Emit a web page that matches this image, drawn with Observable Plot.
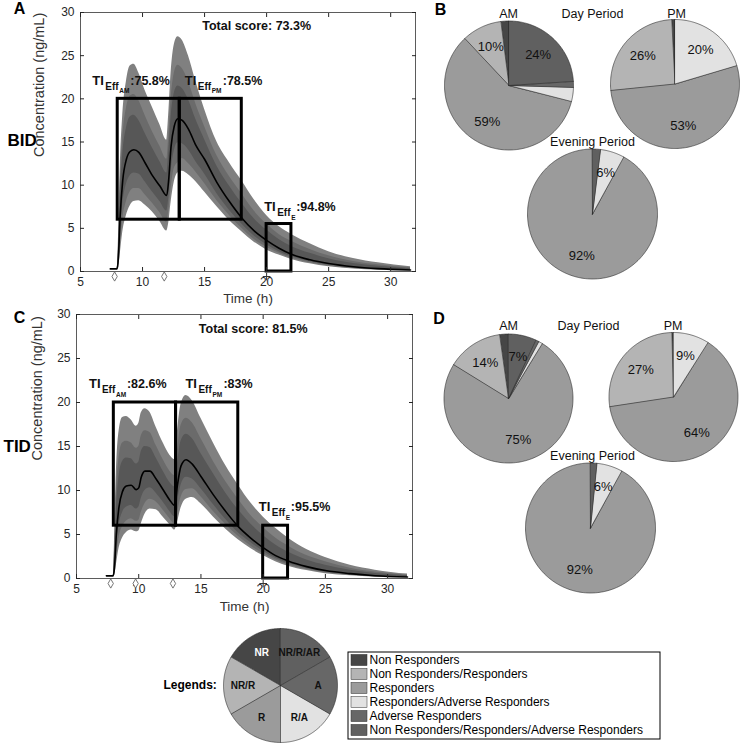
<!DOCTYPE html>
<html><head><meta charset="utf-8">
<script src="https://cdn.jsdelivr.net/npm/d3@7"></script>
<script src="https://cdn.jsdelivr.net/npm/@observablehq/plot@0.6"></script>
<style>
body{margin:0;background:#fff;}
#root{position:relative;width:741px;height:745px;overflow:hidden;background:#fff;}
#root svg{position:absolute;}
</style></head><body><div id="root"></div>
<script>
const FONT = "'Liberation Sans', Arial, Helvetica, sans-serif";

// ---------- BID concentration percentiles ----------
const timeBID = [7.4, 7.95, 8.05, 8.2, 8.4, 8.7, 9.0, 9.3, 9.7, 10.2, 10.8, 11.4, 11.95, 12.1, 12.3, 12.55, 12.85, 13.2, 13.7, 14.3, 15, 16, 17, 18, 19, 20, 21, 22, 23.5, 25, 27, 29, 31.6];
const bidP5  = [0.3, 0.3, 0.3, 2.0, 4.5, 6.5, 7.6, 8.1, 8.2, 7.7, 6.9, 5.8, 4.7, 5.5, 8.0, 10.3, 11.4, 11.6, 11.2, 10.4, 9.2, 7.5, 5.9, 4.6, 3.4, 2.5, 1.9, 1.4, 0.9, 0.55, 0.3, 0.15, 0.08];
const bidP10 = [0.3, 0.3, 0.6, 3.1, 6.0, 8.1, 9.2, 9.6, 9.6, 8.9, 7.9, 6.8, 5.7, 6.8, 9.6, 11.9, 12.6, 13.1, 12.5, 11.5, 10.2, 8.2, 6.5, 5.0, 3.7, 2.8, 2.1, 1.55, 1.01, 0.64, 0.36, 0.2, 0.1];
const bidP25 = [0.3, 0.3, 0.96, 4.5, 7.8, 10.1, 11.1, 11.4, 11.3, 10.4, 9.2, 8.1, 7.0, 8.3, 11.6, 13.9, 14.9, 14.8, 14.1, 12.7, 11.3, 9.0, 7.1, 5.5, 4.1, 3.1, 2.3, 1.73, 1.15, 0.75, 0.44, 0.25, 0.13];
const bidP50 = [0.3, 0.3, 1.5, 6.5, 10.5, 13.0, 13.9, 14.1, 13.8, 12.6, 11.1, 9.9, 8.8, 10.5, 14.5, 16.8, 17.7, 17.5, 16.5, 14.6, 13.0, 10.3, 8.1, 6.2, 4.7, 3.6, 2.7, 2.0, 1.35, 0.92, 0.55, 0.33, 0.18];
const bidP75 = [0.3, 0.3, 2.1, 8.7, 13.5, 16.6, 17.9, 18.1, 17.5, 16.0, 14.3, 12.7, 11.4, 13.5, 17.9, 20.6, 21.5, 21.2, 19.9, 17.6, 15.3, 12.2, 9.9, 7.9, 6.1, 4.8, 3.7, 2.9, 2.1, 1.47, 0.93, 0.6, 0.33];
const bidP90 = [0.3, 0.3, 2.5, 10.1, 15.4, 18.9, 20.3, 20.5, 19.8, 18.1, 16.2, 14.5, 13.0, 15.4, 20.0, 22.9, 23.9, 23.5, 22.0, 19.4, 16.8, 13.4, 11.0, 9.0, 7.0, 5.5, 4.3, 3.5, 2.55, 1.82, 1.17, 0.77, 0.42];
const bidP95 = [0.3, 0.3, 3.0, 12.0, 18.0, 22.0, 23.8, 24.0, 23.0, 21.0, 19.0, 17.0, 15.2, 18.0, 23.0, 26.2, 27.2, 26.8, 25.0, 22.0, 18.8, 15.0, 12.6, 10.5, 8.3, 6.5, 5.2, 4.3, 3.2, 2.3, 1.5, 1.0, 0.55];

// ---------- TID concentration percentiles ----------
const timeTID = [7.4, 7.95, 8.05, 8.2, 8.4, 8.7, 9.0, 9.4, 9.8, 10.0, 10.2, 10.5, 10.9, 11.4, 12.0, 12.5, 12.9, 13.1, 13.4, 13.8, 14.3, 15, 16, 17, 18, 19, 20, 21, 22, 23.5, 25, 27, 29, 31.6];
const tidP5  = [0.3, 0.3, 0.3, 1.5, 3.3, 4.6, 5.2, 5.5, 5.3, 5.4, 6.2, 7.3, 7.9, 7.8, 6.9, 6.1, 5.5, 6.3, 8.0, 9.0, 9.2, 8.5, 7.0, 5.6, 4.4, 3.4, 2.6, 1.9, 1.4, 0.9, 0.55, 0.3, 0.15, 0.08];
const tidP10 = [0.3, 0.3, 0.53, 2.4, 4.5, 5.9, 6.5, 6.8, 6.5, 6.6, 7.5, 8.5, 9.0, 8.7, 7.7, 6.8, 6.2, 7.4, 9.2, 10.1, 10.2, 9.3, 7.6, 6.1, 4.8, 3.7, 2.8, 2.1, 1.55, 1.01, 0.64, 0.36, 0.19, 0.1];
const tidP25 = [0.3, 0.3, 0.8, 3.4, 5.9, 7.5, 8.1, 8.3, 7.9, 8.1, 9.1, 10.0, 10.3, 9.7, 8.6, 7.6, 7.0, 8.6, 10.6, 11.5, 11.3, 10.2, 8.4, 6.7, 5.2, 4.1, 3.1, 2.3, 1.73, 1.15, 0.74, 0.44, 0.24, 0.13];
const tidP50 = [0.3, 0.3, 1.2, 5.0, 8.0, 9.9, 10.5, 10.6, 10.1, 10.3, 11.5, 12.2, 12.2, 11.3, 10.0, 8.9, 8.3, 10.5, 12.8, 13.5, 13.0, 11.6, 9.5, 7.6, 5.9, 4.6, 3.5, 2.6, 2.0, 1.35, 0.9, 0.55, 0.32, 0.17];
const tidP75 = [0.3, 0.3, 2.3, 7.8, 11.4, 13.3, 13.7, 13.6, 13.0, 13.2, 14.4, 15.0, 14.9, 13.7, 12.1, 10.9, 10.4, 12.9, 15.6, 16.4, 15.9, 14.2, 11.9, 9.7, 7.8, 6.2, 4.9, 3.8, 3.0, 2.1, 1.5, 0.93, 0.57, 0.3];
const tidP90 = [0.3, 0.3, 3.0, 9.6, 13.5, 15.4, 15.6, 15.4, 14.8, 15.0, 16.2, 16.8, 16.6, 15.1, 13.4, 12.2, 11.7, 14.4, 17.4, 18.2, 17.7, 15.9, 13.3, 11.0, 9.0, 7.2, 5.8, 4.6, 3.7, 2.6, 1.9, 1.17, 0.73, 0.38];
const tidP95 = [0.3, 0.3, 4.0, 12.0, 16.5, 18.3, 18.4, 18.0, 17.3, 17.6, 18.8, 19.3, 18.9, 17.2, 15.3, 14.0, 13.5, 16.5, 19.8, 20.8, 20.2, 18.2, 15.4, 12.8, 10.6, 8.6, 7.0, 5.7, 4.6, 3.3, 2.4, 1.5, 0.95, 0.5];

// ---------- dosing, windows, scores ----------
const doseBID = [7.75, 11.75];
const doseTID = [7.75, 9.75, 12.75];
const eveningMark = [20];
const xTicks = [5, 10, 15, 20, 25, 30];
const yTicks = [0, 5, 10, 15, 20, 25, 30];
const windowNames = ["AM", "PM", "E"];
const windowStart = [8, 13, 20];
const windowEnd = [13, 18, 22];
const windowLow = [6, 6, 0];
const windowHighBID = [20, 20, 5.5];
const windowHighTID = [20, 20, 6];
const tiBID = ["75.8%", "78.5%", "94.8%"];
const tiTID = ["82.6%", "83%", "95.5%"];
const totalBID = "73.3%";
const totalTID = "81.5%";

// ---------- pie data (% of patients) ----------
const categories = ["Non Responders", "Non Responders/Responders", "Responders", "Responders/Adverse Responders", "Adverse Responders", "Non Responders/Responders/Adverse Responders"];
const abbrev = ["NR", "NR/R", "R", "R/A", "A", "NR/R/AR"];
const bidAM      = [2, 10, 59, 3.5, 1.5, 24];
const bidPM      = [0.8, 25.8, 53, 20.4, 0, 0];
const bidEvening = [0, 0, 92, 6, 0, 2];
const tidAM      = [2.2, 14, 75, 1, 0.8, 7];
const tidPM      = [0.4, 27, 63.6, 9, 0, 0];
const tidEvening = [0, 0, 92, 6.4, 0, 1.6];
const legendShares = [1, 1, 1, 1, 1, 1];

// ---------- styles ----------
const catColors = ["#464646", "#b4b4b4", "#9b9b9b", "#e2e2e2", "#676767", "#606060"];
const bandColors = ["#808080", "#6b6b6b", "#575757"];

const root = document.getElementById("root");

function concPlot(o) {
  const rows = o.t.map((x, i) => ({t: x, p5: o.q[0][i], p10: o.q[1][i], p25: o.q[2][i], p50: o.q[3][i], p75: o.q[4][i], p90: o.q[5][i], p95: o.q[6][i]}));
  const boxes = windowStart.map((s, i) => ({x1: s, x2: windowEnd[i], y1: windowLow[i], y2: o.winHigh[i]}));
  const labels = windowNames.map((n, i) => ({x: o.tiPos[i][0], y: o.tiPos[i][1], sub: n, val: ":" + o.ti[i]}));
  const bold = {fontWeight: "bold", textAnchor: "start", lineAnchor: "middle", fill: "#111"};
  const curve = "monotone-x";
  return Plot.plot({
    width: o.width, height: o.height,
    marginLeft: o.ml, marginRight: o.mr, marginTop: o.mt, marginBottom: o.mb,
    x: {domain: [5, 32]},
    y: {domain: [0, 30]},
    style: {fontFamily: FONT, fontSize: "12px", background: "transparent", overflow: "visible", color: "#262626"},
    marks: [
      Plot.areaY(rows, {x: "t", y1: "p5", y2: "p95", fill: bandColors[0], curve}),
      Plot.areaY(rows, {x: "t", y1: "p10", y2: "p90", fill: bandColors[1], curve}),
      Plot.areaY(rows, {x: "t", y1: "p25", y2: "p75", fill: bandColors[2], curve}),
      Plot.line(rows, {x: "t", y: "p50", stroke: "#000", strokeWidth: 1.6, curve}),
      Plot.rect(boxes, {x1: "x1", x2: "x2", y1: "y1", y2: "y2", fill: "none", stroke: "#000", strokeWidth: 3}),
      Plot.frame({stroke: "#333", strokeWidth: 0.8}),
      Plot.axisX({ticks: xTicks, anchor: "bottom", tickSize: -4, tickPadding: 10, label: null, fontSize: 12}),
      Plot.axisX({ticks: xTicks, anchor: "top", tickSize: -4, tickFormat: () => "", label: null}),
      Plot.axisY({ticks: yTicks, anchor: "left", tickSize: -4, tickPadding: 10, label: null, fontSize: 12}),
      Plot.axisY({ticks: yTicks, anchor: "right", tickSize: -4, tickFormat: () => "", label: null}),
      Plot.dot(o.doses, {x: d => d, y: () => 0, dy: 5, symbol: "diamond", r: 2.8, fill: "white", stroke: "#666", strokeWidth: 0.9}),
      Plot.dot(eveningMark, {x: d => d, y: () => 0, dy: 5, symbol: "plus", r: 2.6, stroke: "#333", strokeWidth: 1}),
      Plot.text(["Concentration (ng/mL)"], {frameAnchor: "left", rotate: -90, dx: o.ylx, dy: o.yly, fontSize: 14.5, fill: "#333"}),
      Plot.text(["Time (h)"], {frameAnchor: "bottom", dy: o.xly, fontSize: 13.5, fill: "#333"}),
      Plot.text(["Total score: " + o.total], {x: () => 19.2, y: () => 28.4, fontSize: 12.5, fontWeight: "bold", fill: "#111", lineAnchor: "middle"}),
      Plot.text(labels, {x: "x", y: "y", text: () => "TI", fontSize: 13, ...bold}),
      Plot.text(labels, {x: "x", y: "y", text: () => "Eff", dx: 13, dy: 6, fontSize: 10, ...bold}),
      Plot.text(labels, {x: "x", y: "y", text: "sub", dx: 27, dy: 10.5, fontSize: 6.5, ...bold}),
      Plot.text(labels, {filter: d => d.sub.length > 1, x: "x", y: "y", text: "val", dx: 38, fontSize: 12.5, ...bold}),
      Plot.text(labels, {filter: d => d.sub.length === 1, x: "x", y: "y", text: "val", dx: 32, fontSize: 12.5, ...bold})
    ]
  });
}

const plotA = concPlot({
  t: timeBID, q: [bidP5, bidP10, bidP25, bidP50, bidP75, bidP90, bidP95],
  doses: doseBID, winHigh: windowHighBID, ti: tiBID, total: totalBID,
  tiPos: [[5.95, 22.1], [13.4, 22.1], [19.8, 7.45]],
  width: 430, height: 310, ml: 80, mr: 15, mt: 12, mb: 39,
  ylx: -41, yly: 15, xly: 31
});
plotA.style.left = "0px"; plotA.style.top = "0px";
root.appendChild(plotA);

const plotC = concPlot({
  t: timeTID, q: [tidP5, tidP10, tidP25, tidP50, tidP75, tidP90, tidP95],
  doses: doseTID, winHigh: windowHighTID, ti: tiTID, total: totalTID,
  tiPos: [[6.0, 22.1], [13.75, 22.1], [19.65, 8.1]],
  width: 430, height: 320, ml: 76, mr: 18, mt: 12, mb: 44,
  ylx: -39, yly: 14, xly: 32
});
plotC.style.left = "0px"; plotC.style.top = "302px";
root.appendChild(plotC);

// ---------- overlay: pies, titles, legend ----------
function pieGeometry(values, cx, cy, r, id, labelMin) {
  const arcs = d3.pie().sort(null).startAngle(0).endAngle(-2 * Math.PI)(values);
  const pts = [], labs = [];
  arcs.forEach((a, i) => {
    if (!(values[i] > 0)) return;
    const key = id + "-" + i;
    const span = a.endAngle - a.startAngle;
    const n = Math.max(2, Math.ceil(Math.abs(span) / (Math.PI / 180)));
    pts.push({x: cx, y: cy, key, fill: catColors[i]});
    for (let k = 0; k <= n; k++) {
      const ang = a.startAngle + span * k / n;
      pts.push({x: cx + r * Math.sin(ang), y: cy - r * Math.cos(ang), key, fill: catColors[i]});
    }
    const mid = (a.startAngle + a.endAngle) / 2;
    labs.push({x: cx + 0.66 * r * Math.sin(mid), y: cy - 0.66 * r * Math.cos(mid), v: values[i], i});
  });
  return {pts, labs: labs.filter(d => labelMin == null || Math.round(d.v) >= labelMin)};
}

const pieLayout = [
  {values: bidAM, cx: 508.5, cy: 85, r: 64.5},
  {values: bidPM, cx: 674.5, cy: 83.5, r: 64.5},
  {values: bidEvening, cx: 592, cy: 213.5, r: 65},
  {values: tidAM, cx: 508, cy: 398, r: 64.5},
  {values: tidPM, cx: 673, cy: 396.5, r: 64.5},
  {values: tidEvening, cx: 590, cy: 527.5, r: 65}
];
let piePts = [], pieLabs = [];
pieLayout.forEach((p, k) => {
  const g = pieGeometry(p.values, p.cx, p.cy, p.r, "p" + k, 5);
  piePts = piePts.concat(g.pts);
  pieLabs = pieLabs.concat(g.labs.map(d => ({...d, text: Math.round(d.v) + "%"})));
});
const leg = pieGeometry(legendShares, 280, 685, 57, "leg", null);
const legLabs = leg.labs.map(d => ({...d, text: abbrev[d.i], light: d.i === 0}));

const titles = [
  {x: 508, y: 13.5, text: "AM"}, {x: 592, y: 13.5, text: "Day Period"}, {x: 676, y: 13.5, text: "PM"},
  {x: 592, y: 141.5, text: "Evening Period"},
  {x: 508, y: 325, text: "AM"}, {x: 588, y: 325, text: "Day Period"}, {x: 672.5, y: 325, text: "PM"},
  {x: 592, y: 455, text: "Evening Period"}
];
const panelLetters = [
  {x: 19, y: 8.5, text: "A"}, {x: 19, y: 317, text: "C"},
  {x: 440, y: 9, text: "B"}, {x: 438.5, y: 318.5, text: "D"}
];
const regimens = [{x: 7, y: 140, text: "BID"}, {x: 3, y: 446.5, text: "TID"}];

const legBox = {x1: 348, x2: 660, y1: 652, y2: 739};
const legRows = categories.map((c, i) => ({name: c, color: catColors[i], y: 660 + i * 14}));

const overlay = Plot.plot({
  width: 741, height: 745, margin: 0,
  x: {domain: [0, 741], range: [0, 741], axis: null},
  y: {domain: [0, 745], range: [0, 745], axis: null},
  color: {type: "identity"},
  style: {fontFamily: FONT, background: "transparent", overflow: "visible"},
  marks: [
    Plot.line(piePts, {x: "x", y: "y", z: "key", fill: "fill", stroke: "#2a2a2a", strokeWidth: 0.6, curve: "linear-closed"}),
    Plot.text(pieLabs, {x: "x", y: "y", text: "text", fontSize: 13, fill: "#111"}),
    Plot.text(titles, {x: "x", y: "y", text: "text", fontSize: 12.5, fill: "#111"}),
    Plot.text(panelLetters, {x: "x", y: "y", text: "text", fontSize: 16, fontWeight: "bold", fill: "#000"}),
    Plot.text(regimens, {x: "x", y: "y", text: "text", fontSize: 17, fontWeight: "bold", textAnchor: "start", fill: "#000"}),
    Plot.line(leg.pts, {x: "x", y: "y", z: "key", fill: "fill", stroke: "#2a2a2a", strokeWidth: 0.6, curve: "linear-closed"}),
    Plot.text(legLabs, {x: "x", y: "y", text: "text", fontSize: 10, fontWeight: "bold", fill: d => d.light ? "#fff" : "#111"}),
    Plot.text([{x: 163, y: 684.5, text: "Legends:"}], {x: "x", y: "y", text: "text", fontSize: 12, fontWeight: "bold", textAnchor: "start", fill: "#000"}),
    Plot.rect([legBox], {x1: "x1", x2: "x2", y1: "y1", y2: "y2", fill: "white", stroke: "#000", strokeWidth: 1}),
    Plot.rect(legRows, {x1: () => 351, x2: () => 367, y1: d => d.y - 5.6, y2: d => d.y + 5.6, fill: "color", stroke: "#333", strokeWidth: 0.5}),
    Plot.text(legRows, {x: () => 369, y: "y", text: "name", fontSize: 12, textAnchor: "start", fill: "#000"})
  ]
});
overlay.style.left = "0px"; overlay.style.top = "0px";
root.appendChild(overlay);
</script>
</body></html>
